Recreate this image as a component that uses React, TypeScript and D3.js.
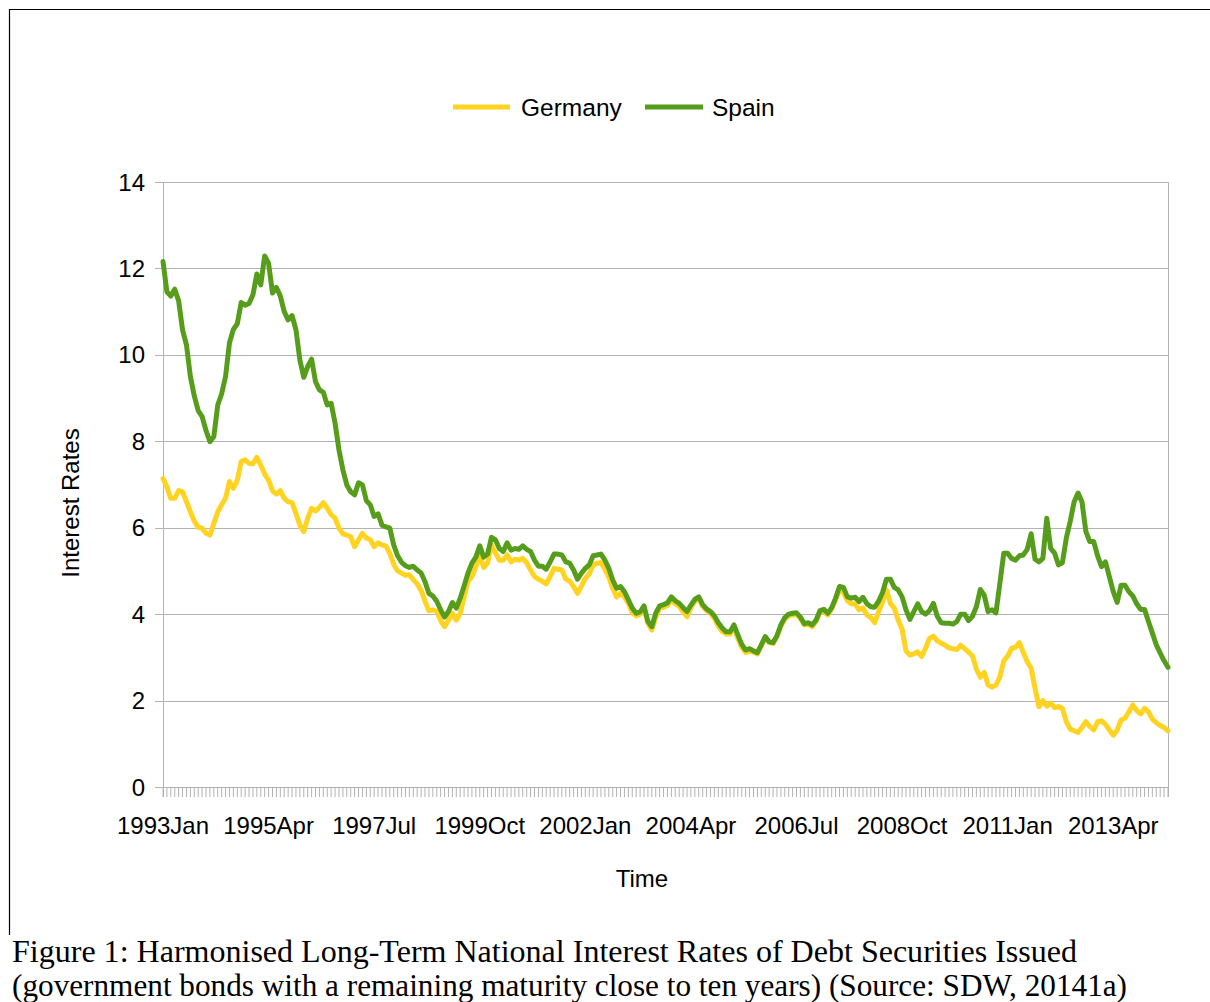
import React from "react";
import * as d3 from "d3";

const startYear = 1993;
const monthCount = 258;
const tickLabels = ["1993Jan", "1995Apr", "1997Jul", "1999Oct", "2002Jan", "2004Apr", "2006Jul", "2008Oct", "2011Jan", "2013Apr"];
const labelStep = 27;
const yTicks = [0, 2, 4, 6, 8, 10, 12, 14];

const spain = [
  12.16, 11.46, 11.36, 11.52, 11.25, 10.58, 10.23, 9.50, 9.05, 8.71,
  8.57, 8.25, 7.99, 8.11, 8.84, 9.10, 9.50, 10.28, 10.59, 10.72,
  11.21, 11.15, 11.19, 11.39, 11.87, 11.62, 12.29, 12.12, 11.43, 11.56,
  11.36, 11.00, 10.81, 10.91, 10.58, 9.88, 9.48, 9.73, 9.90, 9.38,
  9.19, 9.13, 8.84, 8.88, 8.42, 7.80, 7.34, 6.99, 6.83, 6.76,
  7.04, 6.99, 6.63, 6.53, 6.26, 6.32, 6.06, 6.02, 5.99, 5.60,
  5.35, 5.20, 5.12, 5.08, 5.11, 5.02, 4.95, 4.75, 4.48, 4.42,
  4.30, 4.10, 3.93, 4.06, 4.27, 4.14, 4.37, 4.65, 4.95, 5.18,
  5.32, 5.58, 5.32, 5.39, 5.78, 5.72, 5.52, 5.45, 5.65, 5.48,
  5.52, 5.50, 5.58, 5.50, 5.45, 5.25, 5.11, 5.11, 5.04, 5.21,
  5.39, 5.39, 5.37, 5.21, 5.18, 5.02, 4.81, 4.95, 5.06, 5.14,
  5.35, 5.37, 5.39, 5.25, 5.06, 4.79, 4.60, 4.64, 4.52, 4.33,
  4.14, 4.02, 4.05, 4.19, 3.83, 3.71, 4.02, 4.19, 4.22, 4.26,
  4.40, 4.31, 4.25, 4.15, 4.06, 4.21, 4.34, 4.40, 4.22, 4.12,
  4.06, 3.96, 3.80, 3.68, 3.59, 3.59, 3.75, 3.52, 3.30, 3.17,
  3.20, 3.15, 3.11, 3.29, 3.48, 3.36, 3.34, 3.50, 3.75, 3.92,
  4.00, 4.02, 4.03, 3.93, 3.78, 3.80, 3.75, 3.86, 4.08, 4.11,
  4.02, 4.15, 4.37, 4.64, 4.62, 4.40, 4.37, 4.39, 4.29, 4.39,
  4.24, 4.17, 4.16, 4.30, 4.50, 4.81, 4.81, 4.62, 4.56, 4.40,
  4.10, 3.88, 4.06, 4.24, 4.06, 4.00, 4.08, 4.25, 3.95, 3.80,
  3.79, 3.79, 3.77, 3.83, 4.00, 4.00, 3.85, 3.95, 4.17, 4.57,
  4.44, 4.06, 4.10, 4.03, 4.71, 5.41, 5.41, 5.29, 5.25, 5.35,
  5.37, 5.50, 5.86, 5.27, 5.21, 5.29, 6.22, 5.52, 5.41, 5.14,
  5.19, 5.76, 6.15, 6.60, 6.80, 6.60, 5.91, 5.68, 5.68, 5.35,
  5.10, 5.21, 4.87, 4.52, 4.27, 4.67, 4.67, 4.52, 4.42, 4.24,
  4.11, 4.11, 3.83, 3.56, 3.29, 3.10, 2.92, 2.77,
];

const germany = [
  7.14, 6.94, 6.68, 6.68, 6.86, 6.83, 6.60, 6.37, 6.15, 6.01,
  5.99, 5.87, 5.83, 6.10, 6.37, 6.53, 6.68, 7.07, 6.91, 7.10,
  7.53, 7.57, 7.49, 7.48, 7.63, 7.45, 7.24, 7.10, 6.85, 6.78,
  6.86, 6.68, 6.60, 6.58, 6.33, 6.06, 5.91, 6.22, 6.45, 6.39,
  6.47, 6.58, 6.45, 6.30, 6.22, 5.99, 5.86, 5.83, 5.79, 5.56,
  5.72, 5.87, 5.76, 5.72, 5.56, 5.65, 5.60, 5.58, 5.40, 5.15,
  5.00, 4.95, 4.90, 4.91, 4.80, 4.70, 4.55, 4.30, 4.08, 4.10,
  4.06, 3.85, 3.71, 3.86, 4.02, 3.86, 4.02, 4.40, 4.75, 4.87,
  5.10, 5.37, 5.08, 5.18, 5.60, 5.42, 5.25, 5.25, 5.37, 5.21,
  5.27, 5.25, 5.29, 5.19, 5.02, 4.87, 4.81, 4.76, 4.70, 4.87,
  5.06, 5.04, 5.02, 4.81, 4.76, 4.64, 4.48, 4.65, 4.83, 4.93,
  5.14, 5.18, 5.19, 5.04, 4.85, 4.60, 4.40, 4.48, 4.40, 4.25,
  4.03, 3.96, 4.00, 4.11, 3.79, 3.63, 3.93, 4.14, 4.16, 4.20,
  4.33, 4.24, 4.18, 4.05, 3.94, 4.15, 4.30, 4.36, 4.18, 4.08,
  4.02, 3.90, 3.72, 3.60, 3.54, 3.54, 3.71, 3.44, 3.23, 3.11,
  3.15, 3.12, 3.08, 3.27, 3.44, 3.34, 3.32, 3.48, 3.72, 3.88,
  3.96, 3.98, 4.00, 3.90, 3.75, 3.77, 3.71, 3.83, 4.06, 4.06,
  3.98, 4.12, 4.33, 4.56, 4.50, 4.31, 4.24, 4.24, 4.10, 4.14,
  3.98, 3.92, 3.80, 4.06, 4.29, 4.56, 4.25, 4.14, 3.86, 3.65,
  3.15, 3.05, 3.08, 3.13, 3.02, 3.21, 3.44, 3.49, 3.38, 3.33,
  3.28, 3.22, 3.20, 3.18, 3.28, 3.20, 3.12, 3.03, 2.73, 2.54,
  2.65, 2.36, 2.31, 2.36, 2.55, 2.92, 3.03, 3.21, 3.23, 3.34,
  3.11, 2.90, 2.75, 2.28, 1.86, 2.00, 1.87, 1.94, 1.84, 1.86,
  1.82, 1.51, 1.34, 1.30, 1.26, 1.38, 1.51, 1.40, 1.32, 1.51,
  1.53, 1.45, 1.32, 1.20, 1.32, 1.55, 1.59, 1.74, 1.90, 1.77,
  1.69, 1.82, 1.74, 1.57, 1.49, 1.42, 1.38, 1.30,
];

const seriesNames = ["Germany", "Spain"];
const seriesColors = ["#ffd320", "#579d1c"];

export default function App() {
  const W = 1210, H = 1002;
  const left = 163, right = 1168, top = 182, bottom = 787;
  const x = d3.scaleLinear().domain([0, monthCount - 1]).range([left, right]);
  const y = d3.scaleLinear().domain([0, 14]).range([bottom, top]);
  const line = d3.line<number>().x((_, i) => x(i)).y((d) => y(d));
  const grid = "#b3b3b3";
  const font = "'Liberation Sans', Arial, sans-serif";
  const months = d3.range(monthCount);
  const series = [germany, spain];

  return (
    <svg width={W} height={H} style={{ position: "absolute", left: 0, top: 0, background: "#fff" }}>
      <rect x={0} y={0} width={W} height={H} fill="#fff" />
      {/* frame */}
      <line x1={9} y1={9.5} x2={W} y2={9.5} stroke="#000" strokeWidth={1.2} />
      <line x1={9.5} y1={9} x2={9.5} y2={935} stroke="#000" strokeWidth={1.2} />

      {/* gridlines */}
      {yTicks.map((t) => (
        <g key={t}>
          <line x1={155} x2={right} y1={Math.round(y(t)) + 0.5} y2={Math.round(y(t)) + 0.5} stroke={grid} strokeWidth={1} />
          <text x={145} y={y(t) + 8.5} textAnchor="end" fontFamily={font} fontSize={24} fill="#000">{t}</text>
        </g>
      ))}
      <line x1={left + 0.5} x2={left + 0.5} y1={top} y2={bottom + 10} stroke={grid} strokeWidth={1} />
      <line x1={right + 0.5} x2={right + 0.5} y1={top} y2={bottom + 10} stroke={grid} strokeWidth={1} />
      {months.map((m) => (
        <line key={m} x1={x(m)} x2={x(m)} y1={bottom} y2={bottom + 10} stroke={grid} strokeWidth={1} />
      ))}
      {tickLabels.map((lab, i) => (
        <text key={lab} x={x(i * labelStep)} y={834} textAnchor="middle" fontFamily={font} fontSize={24} fill="#000">{lab}</text>
      ))}

      {/* series */}
      {series.map((s, i) => (
        <path key={seriesNames[i]} d={line(s) || ""} fill="none" stroke={seriesColors[i]} strokeWidth={5} strokeLinejoin="round" strokeLinecap="round" />
      ))}

      {/* legend */}
      <line x1={453} x2={510} y1={107} y2={107} stroke={seriesColors[0]} strokeWidth={5} />
      <text x={521} y={116} fontFamily={font} fontSize={24.5} fill="#000">{seriesNames[0]}</text>
      <line x1={645} x2={703} y1={107} y2={107} stroke={seriesColors[1]} strokeWidth={5} />
      <text x={712} y={116} fontFamily={font} fontSize={24.5} fill="#000">{seriesNames[1]}</text>

      {/* axis titles */}
      <text x={642} y={887} textAnchor="middle" fontFamily={font} fontSize={24} fill="#000">Time</text>
      <text transform={`translate(79,503) rotate(-90)`} textAnchor="middle" fontFamily={font} fontSize={24} fill="#000">Interest Rates</text>

      {/* caption */}
      <text x={12} y={962} fontFamily="'Liberation Serif', 'Times New Roman', serif" fontSize={32} textLength={1065} lengthAdjust="spacingAndGlyphs" fill="#000">
        Figure 1: Harmonised Long-Term National Interest Rates of Debt Securities Issued
      </text>
      <text x={12} y={996} fontFamily="'Liberation Serif', 'Times New Roman', serif" fontSize={32} textLength={1115} lengthAdjust="spacingAndGlyphs" fill="#000">
        (government bonds with a remaining maturity close to ten years) (Source: SDW, 20141a)
      </text>
    </svg>
  );
}
